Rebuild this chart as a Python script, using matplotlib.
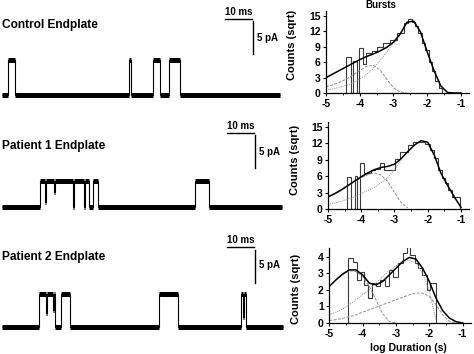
import numpy as np
import matplotlib
matplotlib.use('Agg')
import matplotlib.pyplot as plt
from matplotlib.ticker import MultipleLocator

plt.rcParams['font.family'] = ['Liberation Sans', 'DejaVu Sans']
plt.rcParams['font.weight'] = 'bold'
plt.rcParams['axes.unicode_minus'] = False

# ---- single channel traces: step edges (ms) and open fraction of each step
titles = ['Control Endplate', 'Patient 1 Endplate', 'Patient 2 Endplate']

ctrl_edges = [0, 2.1, 4.6, 45.2, 46.1, 53.9, 56.4, 59.6, 63.6, 99.3]
ctrl_state = [0, 1, 0, 1, 0, 1, 0, 1, 0]
ctrl_amp = 5.2  # pA

p1_edges = [0, 13.6, 15.3, 15.7, 18.6, 19.0, 25.2, 25.6, 29.3, 29.7, 30.9,
            32.5, 34.3, 68.9, 73.9, 100.0]
p1_state = [0, 1, 0.2, 1, 0.6, 1, 0, 1, 0, 1, 0, 1, 0, 1, 0]
p1_amp = 4.0

p2_edges = [0, 13.2, 15.8, 16.2, 18.1, 18.5, 18.9, 21.1, 24.3, 56.1, 62.9,
            85.4, 86.1, 86.5, 87.1, 100.4]
p2_state = [0, 1, 0.4, 1, 0.5, 1, 0, 1, 0, 1, 0, 1, 0.3, 1, 0]
p2_amp = 5.0

# ---- burst duration histograms (log10 s, sqrt counts)
h1_edges = [-4.4, -4.25, -4.19, -4.09, -4.03, -3.9, -3.8, -3.65, -3.5, -3.3,
            -3.1, -2.9, -2.7, -2.56, -2.46, -2.36, -2.26, -2.16, -2.06, -1.96,
            -1.86, -1.76, -1.66, -1.56]
h1_vals = [7.0, 0, 6.3, 0, 8.7, 5.6, 7.8, 8.2, 8.9, 9.7, 10.3, 11.6, 13.6,
           14.5, 13.9, 13.1, 11.6, 9.7, 8.4, 6.1, 4.2, 2.3, 1.0]

h2_edges = [-4.43, -4.31, -4.2, -4.12, -4.04, -3.92, -3.7, -3.6, -3.44, -3.32,
            -3.14, -2.98, -2.83, -2.58, -2.43, -2.28, -2.08, -1.93, -1.8,
            -1.68, -1.58, -1.48, -1.38, -1.28, -1.03]
h2_vals = [5.9, 0, 6.0, 0, 8.5, 6.6, 7.1, 7.4, 8.5, 7.2, 7.1, 9.1, 10.5, 11.7,
           12.3, 12.3, 11.9, 10.8, 9.3, 7.1, 5.6, 4.7, 3.5, 2.25]

h3_edges = [-4.43, -4.28, -4.18, -4.06, -3.96, -3.83, -3.73, -3.6, -3.48,
            -3.33, -3.2, -3.08, -2.93, -2.78, -2.68, -2.58, -2.43, -2.33,
            -2.23, -2.08, -1.98, -1.8]
h3_vals = [3.9, 3.7, 2.6, 3.1, 2.3, 1.5, 2.4, 2.2, 2.6, 2.2, 3.2, 2.8, 3.6,
           4.2, 4.6, 4.1, 3.6, 3.3, 2.9, 2.0, 2.4]

# fitted curves read every 0.2 log units from -5 to -1
fit_x = np.linspace(-5, -1, 21)
nan = np.nan
total1 = [3.0, 3.7, 4.4, 5.1, 5.8, 6.5, 7.1, 7.6, 8.2, 8.9, 9.9, 11.5, 13.8,
          14.0, 11.9, 8.0, 4.4, 1.4, 0.1, 0.0, 0.0]
fast1 = [1.2, 1.6, 2.1, 2.7, 3.5, 4.4, 5.2, 5.4, 4.5, 2.7, 1.0, 0.2, 0.0,
         nan, nan, nan, nan, nan, nan, nan, nan]
slow1 = [0.6, 0.8, 1.1, 1.5, 2.0, 2.7, 3.6, 4.8, 6.3, 8.0, 9.6, 11.4, nan,
         nan, nan, nan, nan, nan, nan, nan, nan]

total2 = [2.2, 2.8, 3.5, 4.3, 5.1, 5.9, 6.6, 7.2, 7.6, 7.8, 8.2, 9.2, 10.5,
          11.7, 12.5, 12.2, 9.8, 6.5, 4.3, 2.2, 0.3]
fast2 = [2.2, 2.8, 3.4, 4.2, 5.0, 5.7, 6.3, 6.6, 6.2, 5.0, 3.0, 1.2, 0.2,
         nan, nan, nan, nan, nan, nan, nan, nan]
slow2 = [0.8, 1.1, 1.4, 1.8, 2.2, 2.8, 3.4, 4.0, 4.8, 5.8, 7.2, 8.9, nan,
         nan, nan, nan, nan, nan, nan, nan, nan]

total3 = [2.2, 2.6, 2.95, 3.2, 3.2, 2.9, 2.4, 2.3, 2.5, 2.9, 3.3, 3.7, 3.95,
          3.85, 3.3, 2.5, 1.5, 0.75, 0.3, 0.08, 0.0]
fast3 = [2.2, 2.6, 2.9, 3.15, 3.1, 2.8, 2.2, 1.4, 0.55, 0.1, 0.0, nan, nan,
         nan, nan, nan, nan, nan, nan, nan, nan]
med3 = [0.5, 0.65, 0.85, 1.1, 1.4, 1.7, 2.0, 2.4, 2.8, 3.15, 3.45, 3.7, 3.8,
        3.6, 3.0, 1.9, 0.2, nan, nan, nan, nan]
slow3 = [0.15, 0.2, 0.28, 0.38, 0.5, 0.65, 0.8, 0.95, 1.1, 1.25, 1.4, 1.55,
         1.7, 1.8, 1.8, 1.6, 1.1, 0.5, 0.1, 0.0, nan]

W, H = 474, 354
fig = plt.figure(figsize=(W / 100, H / 100), dpi=100)


def px_axes(x0, y0, x1, y1):
    # pixel box with top-left origin -> figure axes
    return fig.add_axes([x0 / W, 1 - y1 / H, (x1 - x0) / W, (y1 - y0) / H])


# trace panels: (top px, bottom px, baseline px, title y, bar y, vbar x, vbar top, label y)
PX_MS, PX_PA = 2.8, 6.6
trace_layout = [(0, 120, 94.5, 25, 19, 253, 21, 38),
                (118, 236, 207.5, 146, 133, 255, 135, 152),
                (236, 354, 326.5, 257, 247, 255, 250, 265)]
traces = [(ctrl_edges, ctrl_state, ctrl_amp),
          (p1_edges, p1_state, p1_amp),
          (p2_edges, p2_state, p2_amp)]

for i, (edges, state, amp) in enumerate(traces):
    top, bot, base, ty, by, vx, vtop, ly = trace_layout[i]
    ax = px_axes(0, top, 290, bot)
    ax.set_xlim(-2 / PX_MS, 288 / PX_MS)
    ax.set_ylim((base - bot) / PX_PA, (base - top) / PX_PA)
    ax.axis('off')
    lev = np.array(state) * amp
    e = np.array(edges)
    ax.stairs(lev, e, color='black', lw=0.8, baseline=None)
    ax.hlines(lev, e[:-1], e[1:], color='black', lw=3.6, capstyle='butt')
    ax.text(0, (base - ty) / PX_PA, titles[i], ha='left', va='center',
            fontsize=8.6, fontweight='bold')
    # scale bars 10 ms / 5 pA
    bx1 = (vx - 2) / PX_MS
    bx0 = bx1 - 10
    byv = (base - by) / PX_PA
    ax.plot([bx0, bx1 - 0.3], [byv, byv], color='black', lw=1.0)
    vt = (base - vtop) / PX_PA
    ax.plot([bx1, bx1], [vt, vt - 5], color='black', lw=1.0)
    ax.text((bx0 + bx1) / 2, byv + 0.3, '10 ms', ha='center', va='bottom',
            fontsize=7, fontweight='bold')
    ax.text(bx1 + 1.6, (base - ly) / PX_PA, '5 pA', ha='left', va='center',
            fontsize=7, fontweight='bold')

# histogram panels
hist_boxes = [(326, 10.9, 469.4, 93), (328, 121.5, 469.3, 209),
              (329.3, 248.3, 471, 323)]
hists = [(h1_edges, h1_vals, total1, [fast1, slow1], 16, 3, 0.58),
         (h2_edges, h2_vals, total2, [fast2, slow2], 16, 3, 0.56),
         (h3_edges, h3_vals, total3, [fast3, med3, slow3], 4.5, 1, 0.455)]
comp_styles = [(0, (3, 1.5)), (0, (1, 1.2)), (0, (3, 1.5))]

for i, (edges, vals, total, comps, ymax, ystep, ylab_y) in enumerate(hists):
    x0, y0, x1, y1 = hist_boxes[i]
    ax = px_axes(x0, y0, x1, y1)
    ax.stairs(vals, edges, color='#3a3a3a', lw=0.8)
    for c, ls in zip(comps, comp_styles):
        ax.plot(fit_x, c, color='#8c8c8c', lw=0.7, ls=ls)
    ax.plot(fit_x, total, color='black', lw=1.1)
    ax.set_xlim(-5, -0.75)
    ax.set_ylim(0, ymax)
    ax.xaxis.set_major_locator(MultipleLocator(1))
    ax.xaxis.set_minor_locator(MultipleLocator(0.5))
    ax.yaxis.set_major_locator(MultipleLocator(ystep))
    for s in ['top', 'right']:
        ax.spines[s].set_visible(False)
    for s in ['left', 'bottom']:
        ax.spines[s].set_linewidth(0.9)
    ax.tick_params(labelsize=7.5, width=0.8, length=2.5, pad=1.5)
    ax.tick_params(which='minor', width=0.6, length=1.5)
    for lab in ax.get_xticklabels() + ax.get_yticklabels():
        lab.set_fontweight('bold')
    ax.set_ylabel('Counts (sqrt)', fontsize=8, fontweight='bold')
    ax.yaxis.set_label_coords(-0.2, ylab_y)
    if i == 0:
        ax.text(0.384, 1.07, 'Bursts', transform=ax.transAxes, ha='center',
                va='center', fontsize=7, fontweight='bold')
    if i == 2:
        ax.set_xlabel('log Duration (s)', fontsize=7.5, fontweight='bold')
        ax.xaxis.set_label_coords(0.555, -0.27)

fig.savefig('out.png', dpi=100)
